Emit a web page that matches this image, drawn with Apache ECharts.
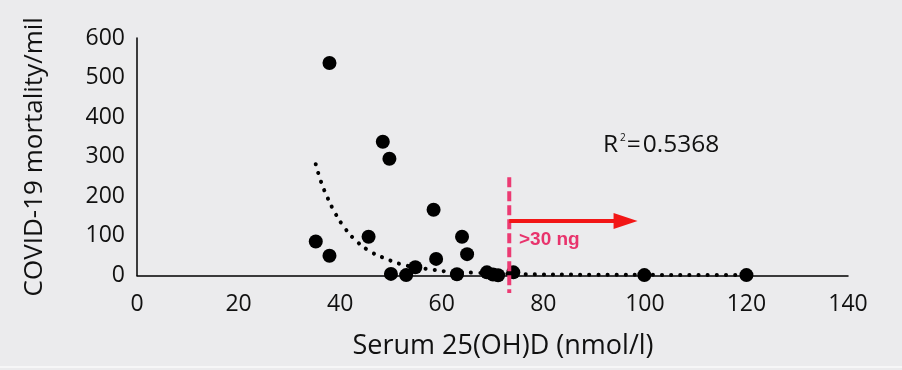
<!DOCTYPE html>
<html><head><meta charset="utf-8">
<script src="https://cdn.jsdelivr.net/npm/echarts@6/dist/echarts.min.js"></script>
<style>html,body{margin:0;padding:0;background:#ebebed;}#c{width:902px;height:370px;}</style>
</head><body><div id="c"></div>
<script>
// ---- data ----
const xTickLabels = ['0','20','40','60','80','100','120','140'];
const yTickLabels = ['0','100','200','300','400','500','600'];

const vitaminD  = [35.2, 37.9, 37.9, 45.6, 48.4, 49.7, 50.0, 53.0, 54.8, 58.4, 58.9, 63.0, 64.0, 65.0, 68.9, 70.1, 71.1, 74.1, 99.9, 120.0];
const mortality = [86,   537,  50,   98,   338,  295,  4,    1,    21,   166,  42,   3,    98,   54,   8,    2.5,  0.5,  8,    1,    1];

// exponential trend line (dotted)
const trendX = [35.2, 36.2, 37.5, 39.0, 40.9, 43.2, 46.0, 49.1, 52.4, 57.4, 61.3, 66.5, 75, 90, 105, 120];
const trendY = [281,  238,  197,  158,  120,  87,   60,   42,   27,   16,   10,   7,    3.5, 2, 1.5, 1];

const rSquared = '0.5368';
const thresholdX = 73.3, thresholdTop = 248, thresholdBottom = -44;
const arrowY = 138, arrowStartX = 73.3, arrowEndX = 96.2;
const thresholdLabel = '>30 ng';
const xName = 'Serum 25(OH)D (nmol/l)';
const yName = 'COVID-19 mortality/mil';

const chart = echarts.init(document.getElementById('c'));
const font = 'Open Sans';
const axisCommon = {
  type: 'value',
  axisLine: { show: true, lineStyle: { color: '#000', width: 1.5 } },
  axisTick: { show: false },
  splitLine: { show: false },
  nameLocation: 'middle'
};
chart.setOption({
  backgroundColor: '#ebebed',
  animation: false,
  textStyle: { fontFamily: font },
  grid: { left: 137, right: 54, top: 38, bottom: 94.5 },
  xAxis: Object.assign({}, axisCommon, {
    min: 0, max: 140, interval: 20,
    axisLabel: { fontSize: 23, color: '#111', margin: 17, fontFamily: font,
      formatter: (v) => xTickLabels[Math.round(v / 20)] },
    name: xName, nameGap: 57,
    nameTextStyle: { fontSize: 27, color: '#111', fontFamily: font, padding: [0, 0, 0, 21] }
  }),
  yAxis: Object.assign({}, axisCommon, {
    min: 0, max: 600, interval: 100,
    axisLabel: { fontSize: 23, color: '#111', margin: 12, fontFamily: font,
      formatter: (v) => yTickLabels[Math.round(v / 100)] },
    name: yName, nameGap: 89, nameRotate: 90,
    nameTextStyle: { fontSize: 26, color: '#111', fontFamily: font }
  }),
  series: [
    {
      type: 'line', z: 2, smooth: 0.4, showSymbol: false, silent: true,
      data: trendX.map((x, i) => [x, trendY[i]]),
      lineStyle: { color: '#000', width: 4, type: [0.1, 9], cap: 'round' }
    },
    {
      type: 'scatter', z: 3, symbolSize: 14,
      itemStyle: { color: '#000', opacity: 1 },
      data: vitaminD.map((x, i) => [x, mortality[i]])
    },
    {
      type: 'line', z: 4, clip: false, showSymbol: false, silent: true,
      data: [[thresholdX, thresholdTop], [thresholdX, thresholdBottom]],
      lineStyle: { color: '#ec3a73', width: 4, type: [10, 4] }
    },
    {
      type: 'line', z: 5, data: [], silent: true,
      markLine: {
        silent: true, animation: false,
        symbol: ['none', 'triangle'], symbolSize: [16, 24],
        lineStyle: { color: '#f21616', width: 4, type: 'solid' },
        label: { show: false },
        data: [[{ coord: [arrowStartX, arrowY] }, { coord: [arrowEndX, arrowY] }]]
      }
    }
  ],
  graphic: [
    {
      type: 'text', left: 603, top: 133, z: 10,
      style: {
        text: '{r|R}{s|2}{e|=}{r|' + rSquared + '}',
        rich: {
          r: { fontSize: 24.5, fontFamily: font, fill: '#111' },
          s: { fontSize: 10, fontFamily: font, fill: '#111', verticalAlign: 'top', padding: [0, 1, 0, 2] },
          e: { fontSize: 24.5, fontFamily: font, fill: '#111', padding: [0, 2, 0, 0] }
        }
      }
    },
    {
      type: 'text', left: 519, top: 230, z: 10,
      style: { text: thresholdLabel, font: 'bold 19px "Liberation Sans"', fill: '#e8336c' }
    },
    {
      type: 'rect', left: 0, top: 366, z: 0, silent: true,
      shape: { width: 902, height: 2 }, style: { fill: '#f6f6f7' }
    }
  ]
});
</script></body></html>
